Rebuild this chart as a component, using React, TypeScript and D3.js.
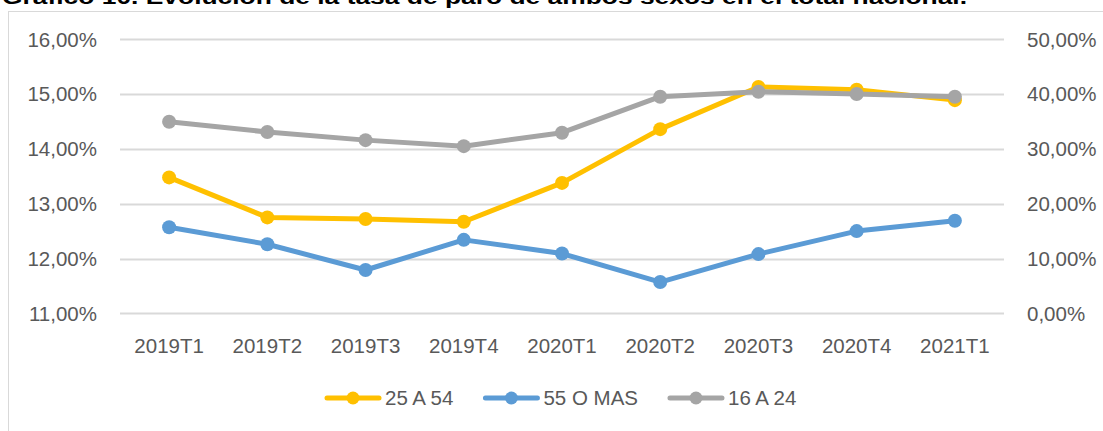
import React, { useEffect, useRef } from "react";
import * as d3 from "d3";

const categories = ["2019T1", "2019T2", "2019T3", "2019T4", "2020T1", "2020T2", "2020T3", "2020T4", "2021T1"];
// left axis (%)
const s25a54 = [13.48, 12.75, 12.72, 12.67, 13.38, 14.36, 15.13, 15.08, 14.89];
const s55mas = [12.57, 12.26, 11.79, 12.34, 12.09, 11.57, 12.08, 12.5, 12.69];
// right axis (%)
const s16a24 = [34.96, 33.08, 31.6, 30.5, 32.96, 39.53, 40.44, 40.02, 39.53];

const leftTicks = [11, 12, 13, 14, 15, 16];
const rightTicks = [0, 10, 20, 30, 40, 50];

const seriesNames = ["25 A 54", "55 O MAS", "16 A 24"];
const colors = ["#FFC000", "#5B9BD5", "#A5A5A5"];

const title = "Gráfico 10. Evolución de la tasa de paro de ambos sexos en el total nacional.";

const fmt = (v: number) => v.toFixed(2).replace(".", ",") + "%";

export default function App() {
  const ref = useRef<SVGSVGElement>(null);
  useEffect(() => {
    const svg = d3.select(ref.current);
    svg.selectAll("*").remove();
    const W = 1103, H = 431;
    const font = "'Liberation Sans', Arial, sans-serif";
    const textColor = "#595959";

    // frame
    svg.append("rect").attr("x", 8.5).attr("y", 11.5).attr("width", 1110).attr("height", 440)
      .attr("fill", "white").attr("stroke", "#D9D9D9").attr("stroke-width", 1);

    // title
    svg.append("text").attr("x", 2).attr("y", 4).attr("font-family", font).attr("font-weight", "bold")
      .attr("font-size", 20).attr("fill", "#000").attr("textLength", 965).attr("lengthAdjust", "spacingAndGlyphs")
      .text(title);

    const x = d3.scaleBand<string>().domain(categories).range([120, 1004]);
    const yL = d3.scaleLinear().domain([11, 16]).range([313.3, 39.3]);
    const yR = d3.scaleLinear().domain([0, 50]).range([313.3, 39.3]);
    const cx = (c: string) => (x(c) as number) + x.bandwidth() / 2;

    // gridlines
    svg.append("g").selectAll("line").data(leftTicks).join("line")
      .attr("x1", 120).attr("x2", 1004)
      .attr("y1", (d) => Math.round(yL(d)) + 0.5).attr("y2", (d) => Math.round(yL(d)) + 0.5)
      .attr("stroke", "#D9D9D9").attr("stroke-width", 2);

    // left axis labels
    svg.append("g").selectAll("text").data(leftTicks).join("text")
      .attr("x", 97).attr("y", (d) => yL(d)).attr("dy", "0.36em").attr("text-anchor", "end")
      .attr("font-family", font).attr("font-size", 20.5).attr("fill", textColor).text((d) => fmt(d));

    // right axis labels
    svg.append("g").selectAll("text").data(rightTicks).join("text")
      .attr("x", 1027).attr("y", (d) => yR(d)).attr("dy", "0.36em").attr("text-anchor", "start")
      .attr("font-family", font).attr("font-size", 20.5).attr("fill", textColor).text((d) => fmt(d));

    // category labels
    svg.append("g").selectAll("text").data(categories).join("text")
      .attr("x", (d) => cx(d)).attr("y", 353).attr("text-anchor", "middle")
      .attr("font-family", font).attr("font-size", 20.5).attr("fill", textColor).text((d) => d);

    const series = [
      { name: seriesNames[0], values: s25a54, y: yL, color: colors[0] },
      { name: seriesNames[1], values: s55mas, y: yL, color: colors[1] },
      { name: seriesNames[2], values: s16a24, y: yR, color: colors[2] },
    ];

    series.forEach((s) => {
      const line = d3.line<number>().x((_, i) => cx(categories[i])).y((v) => s.y(v));
      const g = svg.append("g");
      g.append("path").attr("d", line(s.values) as string).attr("fill", "none")
        .attr("stroke", s.color).attr("stroke-width", 5).attr("stroke-linejoin", "round").attr("stroke-linecap", "round");
      g.selectAll("circle").data(s.values).join("circle")
        .attr("cx", (_, i) => cx(categories[i])).attr("cy", (v) => s.y(v)).attr("r", 7).attr("fill", s.color);
    });

    // legend
    const legend = svg.append("g");
    let lx = 325;
    const ly = 398;
    series.forEach((s) => {
      legend.append("line").attr("x1", lx + 2).attr("x2", lx + 54).attr("y1", ly).attr("y2", ly)
        .attr("stroke", s.color).attr("stroke-width", 5).attr("stroke-linecap", "round");
      legend.append("circle").attr("cx", lx + 28).attr("cy", ly).attr("r", 6.5).attr("fill", s.color);
      const t = legend.append("text").attr("x", lx + 60).attr("y", ly).attr("dy", "0.36em")
        .attr("font-family", font).attr("font-size", 20.5).attr("fill", textColor).text(s.name);
      const w = (t.node() as SVGTextElement).getComputedTextLength();
      lx = lx + 60 + w + 30;
    });
  }, []);
  return (
    <svg ref={ref} width={1103} height={431} style={{ position: "absolute", left: 0, top: 0, background: "white" }} />
  );
}
